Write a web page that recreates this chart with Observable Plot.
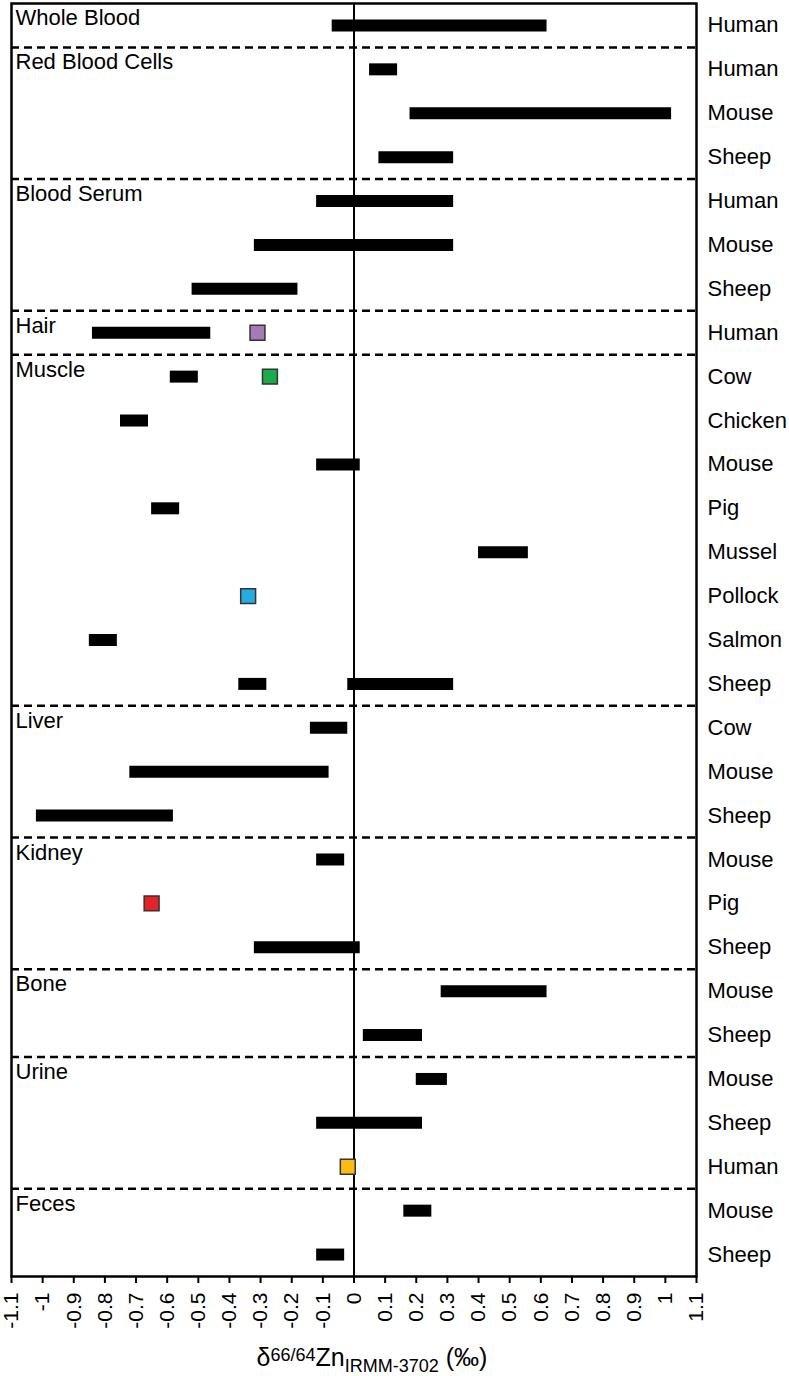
<!DOCTYPE html>
<html>
<head>
<meta charset="utf-8">
<script src="https://cdn.jsdelivr.net/npm/d3@7"></script>
<script src="https://cdn.jsdelivr.net/npm/@observablehq/plot@0.6"></script>
<style>
  body { margin: 0; background: #fff; font-family: "Liberation Sans", Arial, sans-serif; }
  #chart svg [aria-label="x-axis tick"] { stroke-width: 2; }
  #chart svg [aria-label="y-axis tick label"] { font-size: 22px; }
  #xlabel { width: 744px; height: 40px; text-align: center; font-size: 25px; line-height: 30px; padding-top: 6px; color: #000; }
  #xlabel .sup { font-size: 18px; position: relative; top: -5px; }
  #xlabel .sub { font-size: 18px; position: relative; top: 6px; }
</style>
</head>
<body>
<div id="chart"></div>
<div id="xlabel">δ<span class="sup">66/64</span>Zn<span class="sub">IRMM-3702</span> (‰)</div>
<script>
// Rows (top to bottom): tissue group and species
const rowGroup = ["Whole Blood","Red Blood Cells","Red Blood Cells","Red Blood Cells","Blood Serum","Blood Serum","Blood Serum","Hair","Muscle","Muscle","Muscle","Muscle","Muscle","Muscle","Muscle","Muscle","Liver","Liver","Liver","Kidney","Kidney","Kidney","Bone","Bone","Urine","Urine","Urine","Feces","Feces"];
const rowSpecies = ["Human","Human","Mouse","Sheep","Human","Mouse","Sheep","Human","Cow","Chicken","Mouse","Pig","Mussel","Pollock","Salmon","Sheep","Cow","Mouse","Sheep","Mouse","Pig","Sheep","Mouse","Sheep","Mouse","Sheep","Human","Mouse","Sheep"];

// Range bars: row index, low and high δ66/64Zn (‰)
const barRow  = [0, 1, 2, 3, 4, 5, 6, 7, 8, 9, 10, 11, 12, 14, 15, 15, 16, 17, 18, 19, 21, 22, 23, 24, 25, 27, 28];
const barLow  = [-0.07, 0.05, 0.18, 0.08, -0.12, -0.32, -0.52, -0.84, -0.59, -0.75, -0.12, -0.65, 0.40, -0.85, -0.37, -0.02, -0.14, -0.72, -1.02, -0.12, -0.32, 0.28, 0.03, 0.20, -0.12, 0.16, -0.12];
const barHigh = [0.62, 0.14, 1.02, 0.32, 0.32, 0.32, -0.18, -0.46, -0.50, -0.66, 0.02, -0.56, 0.56, -0.76, -0.28, 0.32, -0.02, -0.08, -0.58, -0.03, 0.02, 0.62, 0.22, 0.30, 0.22, 0.25, -0.03];

// Single values (squares)
const ptRow   = [7, 8, 13, 20, 26];
const ptValue = [-0.31, -0.27, -0.34, -0.65, -0.02];
const ptColor = ["#a57ab5", "#1aac4b", "#29abe2", "#e52228", "#f9bc15"];

// x-axis ticks
const xTicks = d3.range(-11, 12).map(v => v / 10);

const bars = barRow.map((r, i) => ({row: r, lo: barLow[i], hi: barHigh[i]}));
const pts = ptRow.map((r, i) => ({row: r, v: ptValue[i], c: ptColor[i]}));
const groupStarts = rowGroup.map((g, i) => ({g, i})).filter(d => d.i === 0 || rowGroup[d.i - 1] !== d.g);
const separators = groupStarts.filter(d => d.i > 0).map(d => d.i);

const chart = Plot.plot({
  width: 789,
  height: 1336,
  marginLeft: 11,
  marginRight: 93,
  marginTop: 3,
  marginBottom: 60,
  style: {fontFamily: '"Liberation Sans", Arial, sans-serif', fontSize: "21px", color: "#000", background: "#fff"},
  x: {
    domain: [-1.1, 1.1],
    ticks: xTicks,
    tickFormat: d => String(d),
    tickSize: 7,
    tickPadding: 9,
    tickRotate: -90,
    label: null
  },
  y: {
    domain: [0, rowSpecies.length],
    reverse: true,
    axis: "right",
    ticks: rowSpecies.map((s, i) => i + 0.5),
    tickFormat: d => rowSpecies[Math.floor(d)],
    tickSize: 0,
    tickPadding: 11,
    label: null
  },
  marks: [
    Plot.ruleY(separators, {stroke: "#000", strokeWidth: 2.5, strokeDasharray: "8,5"}),
    Plot.ruleX([0], {stroke: "#000", strokeWidth: 2}),
    Plot.ruleY(bars, {x1: "lo", x2: "hi", y: d => d.row + 0.5, stroke: "#000", strokeWidth: 12}),
    Plot.dot(pts, {x: "v", y: d => d.row + 0.5, symbol: "square", r: 8.4, fill: d => d.c, stroke: "#333", strokeWidth: 1.5}),
    Plot.text(groupStarts, {x: -1.1, y: d => d.i + 0.5, text: "g", textAnchor: "start", dx: 4, dy: -7, fontSize: 22, fill: "#000"}),
    Plot.frame({stroke: "#000", strokeWidth: 2.5})
  ]
});
document.getElementById("chart").appendChild(chart);
</script>
</body>
</html>
